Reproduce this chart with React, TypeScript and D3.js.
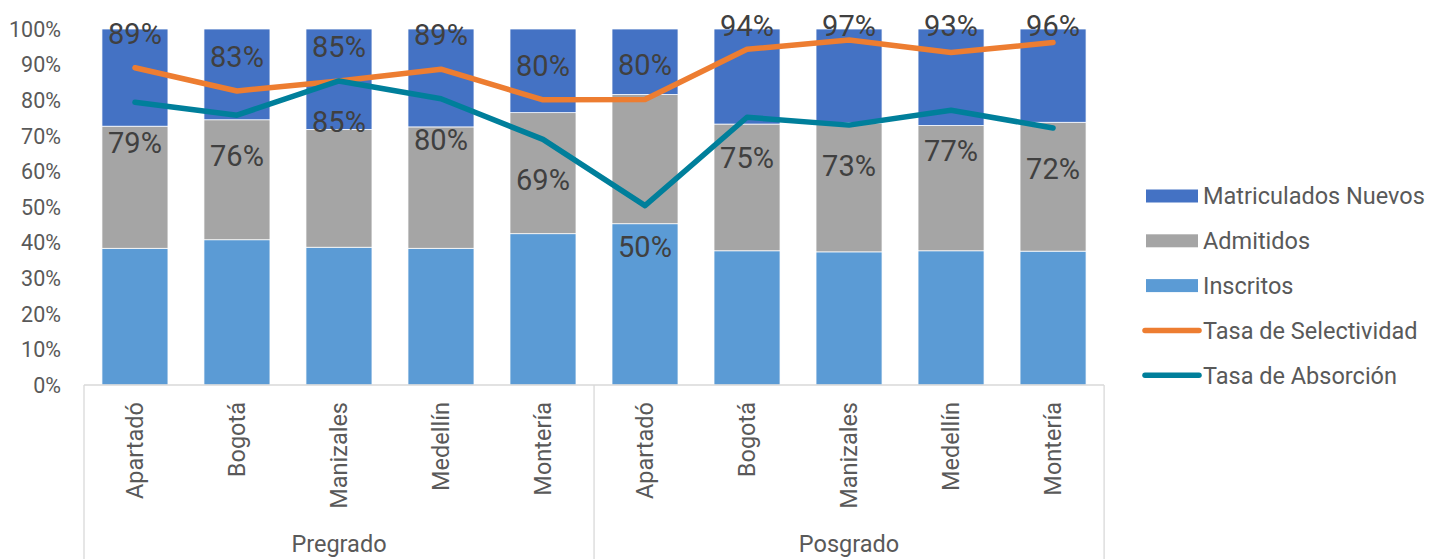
import React from 'react';
import * as d3 from 'd3';

// categories (campus) and their level group
const sedes = ['Apartadó', 'Bogotá', 'Manizales', 'Medellín', 'Montería', 'Apartadó', 'Bogotá', 'Manizales', 'Medellín', 'Montería'];
const niveles = ['Pregrado', 'Posgrado'];
const nivelDeSede = [0, 0, 0, 0, 0, 1, 1, 1, 1, 1];

// stacked shares (% of each bar)
const inscritos = [38.4, 40.8, 38.7, 38.4, 42.5, 45.3, 37.7, 37.4, 37.7, 37.6];
const admitidos = [34.3, 33.7, 33.1, 34.1, 34.0, 36.3, 35.6, 36.2, 35.2, 36.2];
const matriculados = [27.3, 25.5, 28.2, 27.5, 23.5, 18.4, 26.7, 26.4, 27.1, 26.2];

// rates (%)
const selectividad = [89.1, 82.6, 85.4, 88.7, 80.1, 80.2, 94.3, 96.9, 93.4, 96.2];
const absorcion = [79.4, 75.8, 85.4, 80.4, 69.0, 50.4, 75.2, 73.0, 77.2, 72.2];

const yTicks = [0, 10, 20, 30, 40, 50, 60, 70, 80, 90, 100];

const C_MAT = '#4472C4';
const C_ADM = '#A5A5A5';
const C_INS = '#5B9BD5';
const C_SEL = '#ED7D31';
const C_ABS = '#007F9B';
const FONT = 'Roboto, "DejaVu Sans", sans-serif';

const App = () => {
  const left = 84, right = 1104, top = 29, bottom = 385;
  const idx = sedes.map((_, i) => i);

  const x = d3.scaleBand<number>().domain(idx).range([left, right]).paddingInner(0.353).paddingOuter(0.176);
  const y = d3.scaleLinear().domain([0, 100]).range([bottom, top]);
  const cx = (i: number) => (x(i) as number) + x.bandwidth() / 2;

  const stackData = idx.map(i => ({ i, ins: inscritos[i], adm: admitidos[i], mat: matriculados[i] }));
  const series = d3.stack<any>().keys(['ins', 'adm', 'mat'])(stackData);
  const colors: Record<string, string> = { ins: C_INS, adm: C_ADM, mat: C_MAT };

  const line = d3.line<number>().x((_, i) => cx(i)).y(d => y(d));

  const legend = [
    { name: 'Matriculados Nuevos', color: C_MAT, kind: 'rect' },
    { name: 'Admitidos', color: C_ADM, kind: 'rect' },
    { name: 'Inscritos', color: C_INS, kind: 'rect' },
    { name: 'Tasa de Selectividad', color: C_SEL, kind: 'line' },
    { name: 'Tasa de Absorción', color: C_ABS, kind: 'line' },
  ];

  const groupStep = x.step() * 5;

  return (
    <svg width={1443} height={559} style={{ position: 'absolute', left: 0, top: 0, background: '#fff' }} fontFamily={FONT}>
      {/* bars */}
      {series.map(s => (
        <g key={s.key} fill={colors[s.key]}>
          {s.map((d, j) => (
            <rect key={j} x={x(j)} y={y(d[1])} width={x.bandwidth()} height={y(d[0]) - y(d[1])} stroke="#fff" strokeWidth={0.75} />
          ))}
        </g>
      ))}

      {/* y axis labels */}
      {yTicks.map(t => (
        <text key={t} x={61} y={y(t)} dy="0.36em" textAnchor="end" fontSize={21.5} fill="#595959">{t}%</text>
      ))}

      {/* x axis */}
      <line x1={left} x2={right} y1={bottom} y2={bottom} stroke="#D9D9D9" strokeWidth={1.3} />
      {[0, 1, 2].map(k => (
        <line key={k} x1={left + k * groupStep} x2={left + k * groupStep} y1={bottom} y2={559} stroke="#D9D9D9" strokeWidth={1.3} />
      ))}
      {idx.map(i => (
        <text key={i} transform={`translate(${cx(i) + 8},${402}) rotate(-90)`} textAnchor="end" fontSize={23.5} fill="#595959">{sedes[i]}</text>
      ))}
      {niveles.map((n, k) => {
        const members = idx.filter(i => nivelDeSede[i] === k);
        const mid = (cx(members[0]) + cx(members[members.length - 1])) / 2;
        return <text key={n} x={mid} y={552} textAnchor="middle" fontSize={23.5} fill="#595959">{n}</text>;
      })}

      {/* lines */}
      <path d={line(selectividad) || ''} fill="none" stroke={C_SEL} strokeWidth={5.5} strokeLinecap="round" strokeLinejoin="round" />
      <path d={line(absorcion) || ''} fill="none" stroke={C_ABS} strokeWidth={5.5} strokeLinecap="round" strokeLinejoin="round" />

      {/* data labels (kept inside the chart area, like the original) */}
      {selectividad.map((v, i) => (
        <text key={'s' + i} x={cx(i)} y={Math.max(36, y(v) - 24)} textAnchor="middle" fontSize={29} fill="#404040">{Math.round(v)}%</text>
      ))}
      {absorcion.map((v, i) => (
        <text key={'a' + i} x={cx(i)} y={y(v) + 51} textAnchor="middle" fontSize={29} fill="#404040">{Math.round(v)}%</text>
      ))}

      {/* legend */}
      {legend.map((l, k) => {
        const cy = 196 + k * 44.8;
        return (
          <g key={l.name}>
            {l.kind === 'rect'
              ? <rect x={1146} y={cy - 6.5} width={52} height={13} fill={l.color} />
              : <line x1={1145} x2={1199} y1={cy} y2={cy} stroke={l.color} strokeWidth={5.5} strokeLinecap="round" />}
            <text x={1203} y={cy} dy="0.36em" fontSize={23.5} fill="#595959">{l.name}</text>
          </g>
        );
      })}
    </svg>
  );
};

export default App;
